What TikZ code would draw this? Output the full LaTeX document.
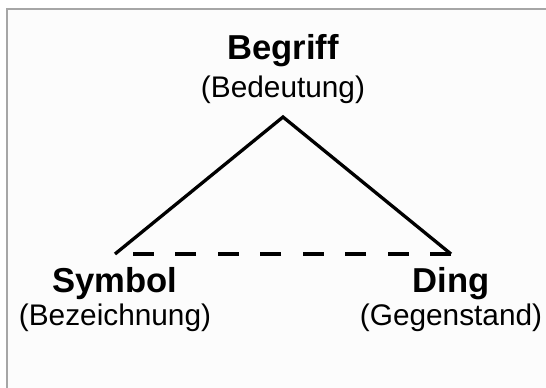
\documentclass[tikz,border=0pt]{standalone}
\usepackage{fontspec}
\setmainfont{Liberation Sans}
\usepackage{tikz}
\usetikzlibrary{calc,positioning}
\tikzset{%
  frame/.style={draw=black!35,line width=1.25pt,fill=black!1},
  side/.style={line width=1.65pt},
}
\begin{document}
\begin{tikzpicture}[x=0.5pt,y=0.5pt,%
	w/.style={inner sep=0pt,anchor=base,font=\fontsize{17.3}{19}\selectfont\bfseries},%
	m/.style={inner sep=0pt,anchor=base,font=\fontsize{14.9}{17}\selectfont}]
	\useasboundingbox (0,0) rectangle (546,387);
	\path[frame] (7,-5) |- (560,378) -- (560,-5) -- cycle;
	% triangle corners
	\coordinate (top) at (283,270);
	\coordinate (left) at (115,133);
	\coordinate (right) at (451,133);
	\draw[side] (left) -- (top) -- (right);
	\draw[side,dash pattern=on 10.5pt off 10.75pt] (right) -- (left);
	% labels
	\node[w] (begriff) at (283,328) {Begriff};
	\node[m] (bedeutung) at ([yshift=-19pt]begriff.base) {(Bedeutung)};
	\node[w] (symbol) at (115,95) {Symbol};
	\node[m] (bezeichnung) at ([yshift=-16.5pt]symbol.base) {(Bezeichnung)};
	\node[w] (ding) at (451,95) {Ding};
	\node[m] (gegenstand) at ([yshift=-16.5pt]ding.base) {(Gegenstand)};
\end{tikzpicture}
\end{document}
